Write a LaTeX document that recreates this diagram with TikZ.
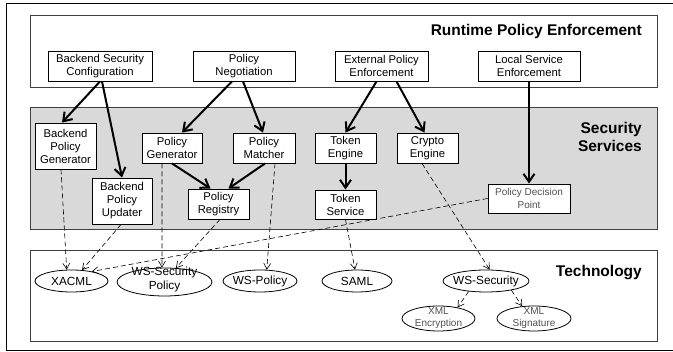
\documentclass[tikz,border=0pt]{standalone}
\usepackage{fontspec}
\setmainfont{Liberation Sans}
\usetikzlibrary{arrows.meta,shapes.geometric}

\definecolor{panelgray}{HTML}{D9D9D9}
\definecolor{edgegray}{HTML}{404040}
\definecolor{softtext}{HTML}{505050}

\begin{document}
\begin{tikzpicture}[x=1pt,y=-1pt,
  panel/.style={draw=edgegray, line width=0.9pt},
  title/.style={font=\bfseries\fontsize{15.5}{18.5}\selectfont, align=right, inner sep=0pt},
  box/.style={draw, fill=white, line width=0.9pt, align=center, inner sep=0pt,
              font=\fontsize{11.3}{13}\selectfont},
  softbox/.style={box, text=softtext, font=\fontsize{10}{13}\selectfont},
  ell/.style={ellipse, draw, fill=white, line width=0.8pt, inner sep=0pt},
  elltext/.style={align=center, inner sep=0pt, font=\fontsize{11.8}{14.5}\selectfont},
  softelltext/.style={align=center, inner sep=0pt, text=softtext, font=\fontsize{10}{11.5}\selectfont},
  flow/.style={line width=2pt, -{Straight Barb[length=8pt,width=11pt]}},
  uses/.style={line width=0.6pt, dash pattern=on 5pt off 3pt, -{Straight Barb[length=6pt,width=7pt]}}
]
\useasboundingbox (0,0) rectangle (673,352);

% outer frame (its right side lies beyond the page)
\draw[line width=1.8pt] (6.5,3.5) rectangle (700,350.5);

% layer panels
\draw[panel, fill=white] (30,15) rectangle (657,87);
\draw[panel, fill=panelgray] (30,107) rectangle (657,229);
\draw[panel, fill=white] (30,250) rectangle (657,341);

\node[title, anchor=base east] (tRuntime) at (642,35.5) {Runtime Policy Enforcement};
\node[title, anchor=north east] (tSecurity) at (642,121.7) {Security\\Services};
\node[title, anchor=base east] (tTech) at (642,277) {Technology};

% runtime policy enforcement
\node[box, minimum width=104pt, minimum height=30pt] (bsc) at (100,66) {Backend Security\\Configuration};
\node[box, minimum width=102pt, minimum height=30pt] (pn) at (244,66) {Policy\\Negotiation};
\node[box, minimum width=93pt, minimum height=30pt] (epe) at (381.5,66) {External Policy\\Enforcement};
\node[box, minimum width=102pt, minimum height=30pt] (lse) at (529,66) {Local Service\\Enforcement};

% security services
\node[box, minimum width=61pt, minimum height=46pt] (bpg) at (65.5,146) {Backend\\Policy\\Generator};
\node[box, minimum width=60pt, minimum height=46pt] (bpu) at (122,201) {Backend\\Policy\\Updater};
\node[box, minimum width=60pt, minimum height=30pt] (pg) at (172,148) {Policy\\Generator};
\node[box, minimum width=62pt, minimum height=30pt] (pm) at (264,148) {Policy\\Matcher};
\node[box, minimum width=61pt, minimum height=30pt] (pr) at (218.5,204) {Policy\\Registry};
\node[box, minimum width=61pt, minimum height=30pt] (te) at (345.5,148) {Token\\Engine};
\node[box, minimum width=61pt, minimum height=29pt] (ts) at (345.5,204.5) {Token\\Service};
\node[box, minimum width=61pt, minimum height=30pt] (ce) at (427.5,148) {Crypto\\Engine};
\node[softbox, minimum width=82pt, minimum height=29pt] (pdp) at (529,198.5) {Policy Decision\\Point};

% technology
\node[ell, minimum width=73pt, minimum height=22pt] (xacml) at (71.5,281) {};
\node[elltext] (xacmlT) at (xacml) {XACML};
\node[ell, minimum width=95pt, minimum height=28pt] (wssp) at (164.5,282) {};
\node[elltext] (wsspT) at (164.5,279.5) {WS-Security\\Policy};
\node[ell, minimum width=74pt, minimum height=22pt] (wsp) at (260,281) {};
\node[elltext] (wspT) at (wsp) {WS-Policy};
\node[ell, minimum width=70pt, minimum height=22pt] (saml) at (357,281) {};
\node[elltext] (samlT) at (saml) {SAML};
\node[ell, minimum width=86pt, minimum height=22pt] (wss) at (486,281) {};
\node[elltext] (wssT) at (wss) {WS-Security};
\node[ell, minimum width=73pt, minimum height=25pt] (xenc) at (438.5,318.5) {};
\node[softelltext] (xencT) at (438.5,318.3) {XML\\Encryption};
\node[ell, minimum width=74pt, minimum height=25pt] (xsig) at (534,318.5) {};
\node[softelltext] (xsigT) at (534,318.3) {XML\\Signature};

% control flow
\draw[flow] (bsc.south) -- ([xshift=-3.5pt]bpg.north);
\draw[flow] ([xshift=2pt]bsc.south) -- (bpu.north);
\draw[flow] ([xshift=-12pt]pn.south) -- ([xshift=10pt]pg.north);
\draw[flow] ([xshift=-1pt]pn.south) -- ([xshift=-1pt]pm.north);
\draw[flow] ([xshift=-5pt]epe.south) -- (te.north);
\draw[flow] ([xshift=15pt]epe.south) -- ([xshift=-3pt]ce.north);
\draw[flow] (lse.south) -- (pdp.north);
\draw[flow] (pg.south) -- ([xshift=-8pt]pr.north);
\draw[flow] ([xshift=1pt]pm.south) -- ([xshift=10pt]pr.north);
\draw[flow] (te.south) -- (ts.north);

% technology dependencies
\draw[uses] ([xshift=-4.5pt]bpg.south) -- (xacml.113);
\draw[uses] ([xshift=-1pt]bpu.south) -- (xacml.46);
\draw[uses] (pdp.west) -- (xacml.25);
\draw[uses] ([xshift=-10pt]pg.south) -- (wssp.100);
\draw[uses] ([xshift=1.5pt]pr.south) -- (wssp.51);
\draw[uses] ([xshift=11pt]pm.south) -- (wsp.59);
\draw[uses] (ts.south) -- (saml.100);
\draw[uses] ([xshift=-5.5pt]ce.south) -- (wss.72);
\draw[uses] (wss.211) -- (xenc.30);
\draw[uses] (wss.340) -- (xsig.134);
\end{tikzpicture}
\end{document}
